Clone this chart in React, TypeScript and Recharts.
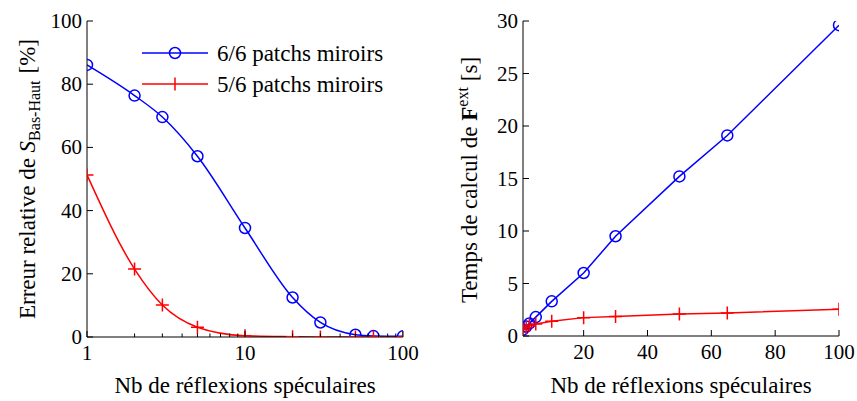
import React from "react";
import { LineChart, Line, XAxis, YAxis, Legend } from "recharts";

const reflexions = [1, 2, 3, 5, 10, 20, 30, 50, 65, 100];
const erreurFull = [86.1, 76.4, 69.6, 57.2, 34.5, 12.5, 4.6, 0.7, 0.3, 0.2];
const erreurPartial = [51.3, 21.5, 10.1, 3.1, 0.4, 0.1, 0, 0, 0, 0];
const tempsFull = [0.6, 0.9, 1.2, 1.8, 3.3, 6.0, 9.5, 15.2, 19.1, 29.6];
const tempsPartial = [0.6, 0.8, 1.0, 1.15, 1.4, 1.75, 1.85, 2.1, 2.2, 2.55];

const logTicks = [1, 2, 3, 4, 5, 6, 7, 8, 9, 10, 20, 30, 40, 50, 60, 70, 80, 90, 100];
const errTicks = [0, 20, 40, 60, 80, 100];
const linTicks = [20, 40, 60, 80, 100];
const timeTicks = [0, 5, 10, 15, 20, 25, 30];

const errData = reflexions.map((n, i) => ({ n, full: erreurFull[i], partial: erreurPartial[i] }));
const timeData = reflexions.map((n, i) => ({ n, full: tempsFull[i], partial: tempsPartial[i] }));

const FONT = "'Liberation Serif', 'Times New Roman', serif";
const BLUE = "#0000ff";
const RED = "#ff0000";
const MAJOR = [1, 10, 100];

const CircleDot = (props: any) => {
  const { cx, cy } = props;
  if (cx == null || cy == null) return null;
  return <circle cx={cx} cy={cy} r={5.5} fill="none" stroke={BLUE} strokeWidth={1.5} />;
};

const PlusDot = (props: any) => {
  const { cx, cy } = props;
  if (cx == null || cy == null) return null;
  return (
    <path d={`M${cx - 6.5},${cy}H${cx + 6.5}M${cx},${cy - 6.5}V${cy + 6.5}`} stroke={RED} strokeWidth={1.5} />
  );
};

// ticks drawn inward, MATLAB style
const BottomTick = (props: any) => {
  const { x, y, payload, log } = props;
  const major = !log || MAJOR.includes(payload.value);
  const len = major ? 6 : 3.5;
  return (
    <g>
      <line x1={x} x2={x} y1={y} y2={y - len} stroke="#000" />
      {major && (
        <text x={x} y={y + 23} textAnchor="middle" fontSize={21} fontFamily={FONT} fill="#000">
          {payload.value}
        </text>
      )}
    </g>
  );
};

const TopTick = (props: any) => {
  const { x, y, payload, log } = props;
  const major = !log || MAJOR.includes(payload.value);
  const len = major ? 6 : 3.5;
  return <line x1={x} x2={x} y1={y} y2={y + len} stroke="#000" />;
};

const LeftTick = (props: any) => {
  const { x, y, payload } = props;
  return (
    <g>
      <line x1={x} x2={x + 6} y1={y} y2={y} stroke="#000" />
      <text x={x - 5} y={y + 7} textAnchor="end" fontSize={21} fontFamily={FONT} fill="#000">
        {payload.value}
      </text>
    </g>
  );
};

const RightTick = (props: any) => {
  const { x, y } = props;
  return <line x1={x} x2={x - 6} y1={y} y2={y} stroke="#000" />;
};

const XLabel = ({ cx }: { cx: number }) => (
  <text x={cx} y={393} textAnchor="middle" fontSize={23} fontFamily={FONT} fill="#000">
    Nb de réflexions spéculaires
  </text>
);

const ErrLabel = () => (
  <text transform="translate(35,179) rotate(-90)" textAnchor="middle" fontSize={23} fontFamily={FONT} fill="#000">
    Erreur relative de <tspan fontStyle="italic">S</tspan>
    <tspan fontSize={16} dy={5}>Bas-Haut</tspan>
    <tspan dy={-5} dx={7}>[%]</tspan>
  </text>
);

const TimeLabel = () => (
  <text transform="translate(47,180) rotate(-90)" textAnchor="middle" fontSize={23} fontFamily={FONT} fill="#000">
    Temps de calcul de <tspan fontWeight="bold">F</tspan>
    <tspan fontSize={16} dy={-9}>ext</tspan>
    <tspan dy={9} dx={6}>[s]</tspan>
  </text>
);

const LegendBox = () => (
  <svg width={260} height={70}>
    <line x1={2} x2={68} y1={17} y2={17} stroke={BLUE} strokeWidth={1.5} />
    <circle cx={35} cy={17} r={5.5} fill="none" stroke={BLUE} strokeWidth={1.5} />
    <text x={77} y={25} fontSize={23} fontFamily={FONT} fill="#000">6/6 patchs miroirs</text>
    <line x1={2} x2={68} y1={48} y2={48} stroke={RED} strokeWidth={1.5} />
    <path d="M35,41.5V54.5" stroke={RED} strokeWidth={1.5} />
    <text x={77} y={56} fontSize={23} fontFamily={FONT} fill="#000">5/6 patchs miroirs</text>
  </svg>
);

const axisLine = { stroke: "#000", strokeWidth: 1 };

export default function App() {
  return (
    <div style={{ position: "absolute", left: 0, top: 0, width: 857, height: 401, display: "flex", background: "#fff" }}>
      <LineChart width={430} height={401} data={errData} margin={{ top: 21, right: 27, bottom: 0, left: 0 }}>
        <XAxis
          dataKey="n"
          type="number"
          scale="log"
          domain={[1, 100]}
          allowDataOverflow
          ticks={logTicks}
          interval={0}
          height={64}
          tickSize={0}
          tickMargin={0}
          tickLine={false}
          axisLine={axisLine}
          tick={<BottomTick log />}
          label={<XLabel cx={245} />}
        />
        <XAxis
          xAxisId="top"
          orientation="top"
          dataKey="n"
          type="number"
          scale="log"
          domain={[1, 100]}
          allowDataOverflow
          ticks={logTicks}
          interval={0}
          height={0}
          tickSize={0}
          tickMargin={0}
          tickLine={false}
          axisLine={axisLine}
          tick={<TopTick log />}
        />
        <YAxis
          type="number"
          domain={[0, 100]}
          allowDataOverflow
          ticks={errTicks}
          interval={0}
          width={87}
          tickSize={0}
          tickMargin={0}
          tickLine={false}
          axisLine={axisLine}
          tick={<LeftTick />}
          label={<ErrLabel />}
        />
        <YAxis
          yAxisId="right"
          orientation="right"
          type="number"
          domain={[0, 100]}
          ticks={errTicks}
          interval={0}
          width={0}
          tickSize={0}
          tickMargin={0}
          tickLine={false}
          axisLine={axisLine}
          tick={<RightTick />}
        />
        <Legend
          layout="horizontal"
          verticalAlign="middle"
          align="center"
          wrapperStyle={{ left: 140, top: 36, width: 260, height: 70 }}
          content={() => <LegendBox />}
        />
        <Line
          type="monotone"
          dataKey="full"
          stroke={BLUE}
          strokeWidth={1.5}
          dot={<CircleDot />}
          isAnimationActive={false}
        />
        <Line
          type="monotone"
          dataKey="partial"
          stroke={RED}
          strokeWidth={1.5}
          dot={<PlusDot />}
          isAnimationActive={false}
        />
      </LineChart>
      <LineChart width={427} height={401} data={timeData} margin={{ top: 21, right: 18, bottom: 0, left: 0 }}>
        <XAxis
          dataKey="n"
          type="number"
          domain={[1, 100]}
          allowDataOverflow
          ticks={linTicks}
          interval={0}
          height={65}
          tickSize={0}
          tickMargin={0}
          tickLine={false}
          axisLine={axisLine}
          tick={<BottomTick />}
          label={<XLabel cx={251} />}
        />
        <XAxis
          xAxisId="top"
          orientation="top"
          dataKey="n"
          type="number"
          domain={[1, 100]}
          allowDataOverflow
          ticks={linTicks}
          interval={0}
          height={0}
          tickSize={0}
          tickMargin={0}
          tickLine={false}
          axisLine={axisLine}
          tick={<TopTick />}
        />
        <YAxis
          type="number"
          domain={[0, 30]}
          allowDataOverflow
          ticks={timeTicks}
          interval={0}
          width={93}
          tickSize={0}
          tickMargin={0}
          tickLine={false}
          axisLine={axisLine}
          tick={<LeftTick />}
          label={<TimeLabel />}
        />
        <YAxis
          yAxisId="right"
          orientation="right"
          type="number"
          domain={[0, 30]}
          ticks={timeTicks}
          interval={0}
          width={0}
          tickSize={0}
          tickMargin={0}
          tickLine={false}
          axisLine={axisLine}
          tick={<RightTick />}
        />
        <Line
          type="linear"
          dataKey="full"
          stroke={BLUE}
          strokeWidth={1.5}
          dot={<CircleDot />}
          isAnimationActive={false}
        />
        <Line
          type="linear"
          dataKey="partial"
          stroke={RED}
          strokeWidth={1.5}
          dot={<PlusDot />}
          isAnimationActive={false}
        />
      </LineChart>
    </div>
  );
}
